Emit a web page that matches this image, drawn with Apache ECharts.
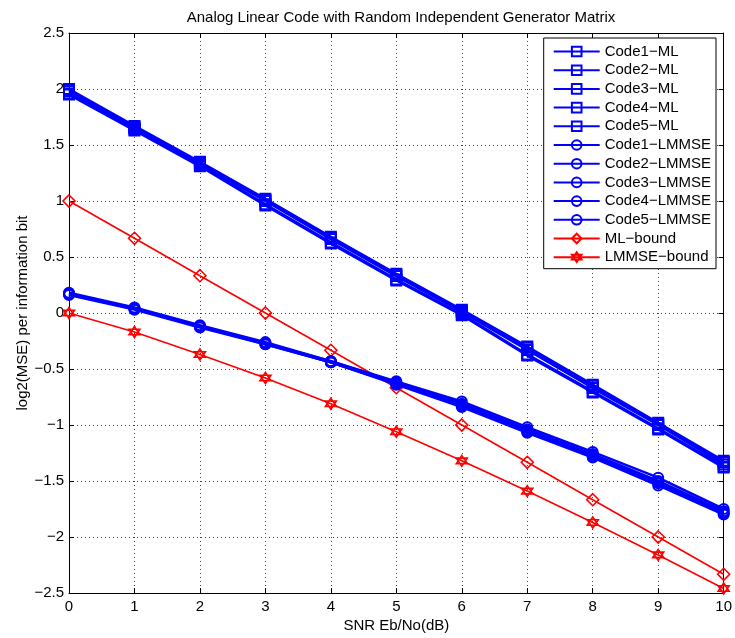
<!DOCTYPE html>
<html><head><meta charset="utf-8">
<script src="https://cdn.jsdelivr.net/npm/echarts@6/dist/echarts.min.js"></script>
<style>html,body{margin:0;padding:0;background:#fff}#c{width:735px;height:638px}</style>
</head><body><div id="c"></div>
<script>
var snr = [0,1,2,3,4,5,6,7,8,9,10];
var xTicks = ['0','1','2','3','4','5','6','7','8','9','10'];
var yTicks = [-2.5,-2,-1.5,-1,-0.5,0,0.5,1,1.5,2,2.5];

var code1ML = [2.00, 1.67, 1.35, 1.02, 0.68, 0.35, 0.03, -0.30, -0.64, -0.98, -1.32];
var code2ML = [1.99, 1.66, 1.34, 1.01, 0.67, 0.34, 0.02, -0.31, -0.65, -0.99, -1.33];
var code3ML = [1.98, 1.65, 1.33, 1.00, 0.66, 0.33, 0.01, -0.33, -0.67, -1.00, -1.35];
var code4ML = [1.95, 1.63, 1.31, 0.96, 0.62, 0.29, -0.02, -0.38, -0.71, -1.04, -1.38];
var code5ML = [1.96, 1.64, 1.32, 0.97, 0.63, 0.30, -0.01, -0.37, -0.70, -1.03, -1.37];

var code1LM = [0.18, 0.05, -0.11, -0.26, -0.43, -0.61, -0.79, -1.02, -1.24, -1.47, -1.75];
var code2LM = [0.17, 0.04, -0.12, -0.27, -0.43, -0.62, -0.81, -1.04, -1.26, -1.50, -1.77];
var code3LM = [0.17, 0.04, -0.12, -0.27, -0.44, -0.63, -0.83, -1.06, -1.28, -1.52, -1.79];
var code4LM = [0.16, 0.03, -0.13, -0.28, -0.44, -0.63, -0.82, -1.05, -1.27, -1.51, -1.78];
var code5LM = [0.17, 0.04, -0.12, -0.28, -0.44, -0.64, -0.84, -1.07, -1.29, -1.54, -1.80];

var mlBound = [1.00, 0.667, 0.333, 0.00, -0.333, -0.667, -1.00, -1.333, -1.667, -2.00, -2.333];
var lmmseBound = [0.00, -0.17, -0.37, -0.58, -0.81, -1.06, -1.32, -1.59, -1.87, -2.16, -2.46];

var names = ['Code1\u2212ML','Code2\u2212ML','Code3\u2212ML','Code4\u2212ML','Code5\u2212ML',
  'Code1\u2212LMMSE','Code2\u2212LMMSE','Code3\u2212LMMSE','Code4\u2212LMMSE','Code5\u2212LMMSE',
  'ML\u2212bound','LMMSE\u2212bound'];
var datas = [code1ML,code2ML,code3ML,code4ML,code5ML,code1LM,code2LM,code3LM,code4LM,code5LM,mlBound,lmmseBound];

var hexagram = 'path://M0,-10L8.66,5L-8.66,5Z M0,10L-8.66,-5L8.66,-5Z';
var BLUE = '#0000ff', RED = '#ff0000';
var FONT = 'Liberation Sans, Arial, Helvetica, sans-serif';

function mk(i){
  var isML = i < 5, isLM = i >= 5 && i < 10;
  var col = i < 10 ? BLUE : RED;
  var sym = isML ? 'rect' : (isLM ? 'circle' : (i === 10 ? 'diamond' : hexagram));
  var size = isML ? 10 : (isLM ? 10 : (i === 10 ? 12 : 11));
  return {
    name: names[i], type: 'line',
    data: snr.map(function(x, k){ return [x, datas[i][k]]; }),
    symbol: sym, symbolSize: size, showSymbol: true,
    lineStyle: {color: col, width: i < 10 ? 2.5 : 1.6},
    itemStyle: {color: 'none', borderColor: col, borderWidth: i < 10 ? 2 : 1.6},
    animation: false, z: i < 10 ? 3 : 2
  };
}
var series = [];
for (var i = 0; i < 12; i++) series.push(mk(i));

var chart = echarts.init(document.getElementById('c'), null, {renderer: 'canvas'});
var axisLine = {show: true, onZero: false, lineStyle: {color: '#000', width: 1}};
var gridLine = {show: true, lineStyle: {color: '#444', type: [1, 3], width: 1}};
var tick = {inside: true, length: 5, lineStyle: {color: '#000'}};
chart.setOption({
  backgroundColor: '#fff',
  animation: false,
  textStyle: {fontFamily: FONT},
  title: {text: 'Analog Linear Code with Random Independent Generator Matrix', left: 396, textAlign: 'center', top: 5,
    textStyle: {fontSize: 15, fontWeight: 'normal', color: '#000', fontFamily: FONT}},
  grid: {left: 69, right: 11, top: 33, bottom: 44},
  legend: {
    data: names, orient: 'vertical', right: 19, top: 38,
    backgroundColor: '#fff', borderColor: '#000', borderWidth: 1,
    padding: [6, 5, 4, 9], itemWidth: 46, itemHeight: 12, itemGap: 3.7,
    textStyle: {fontSize: 15, color: '#000', fontFamily: FONT}
  },
  xAxis: [{
    type: 'value', min: 0, max: 10, interval: 1,
    name: 'SNR Eb/No(dB)', nameLocation: 'middle', nameGap: 25, nameMoveOverlap: false,
    nameTextStyle: {fontSize: 15, color: '#000'},
    axisLine: axisLine, axisTick: tick,
    axisLabel: {color: '#000', fontSize: 15, margin: 6, formatter: function(v){ return xTicks[v] !== undefined ? xTicks[v] : v; }},
    splitLine: gridLine
  }, {
    type: 'value', min: 0, max: 10, interval: 1, position: 'top',
    axisLine: axisLine, axisTick: tick,
    axisLabel: {show: false}, splitLine: {show: false}
  }],
  yAxis: [{
    type: 'value', min: -2.5, max: 2.5, interval: 0.5,
    name: 'log2(MSE) per information bit', nameLocation: 'middle', nameGap: 39, nameRotate: 90, nameMoveOverlap: false,
    nameTextStyle: {fontSize: 15, color: '#000'},
    axisLine: axisLine, axisTick: tick,
    axisLabel: {color: '#000', fontSize: 15, margin: 5, formatter: function(v){ return String(v).replace('-', '\u2212'); }},
    splitLine: gridLine
  }, {
    type: 'value', min: -2.5, max: 2.5, interval: 0.5, position: 'right',
    axisLine: axisLine, axisTick: tick,
    axisLabel: {show: false}, splitLine: {show: false}
  }],
  series: series
});
</script></body></html>
